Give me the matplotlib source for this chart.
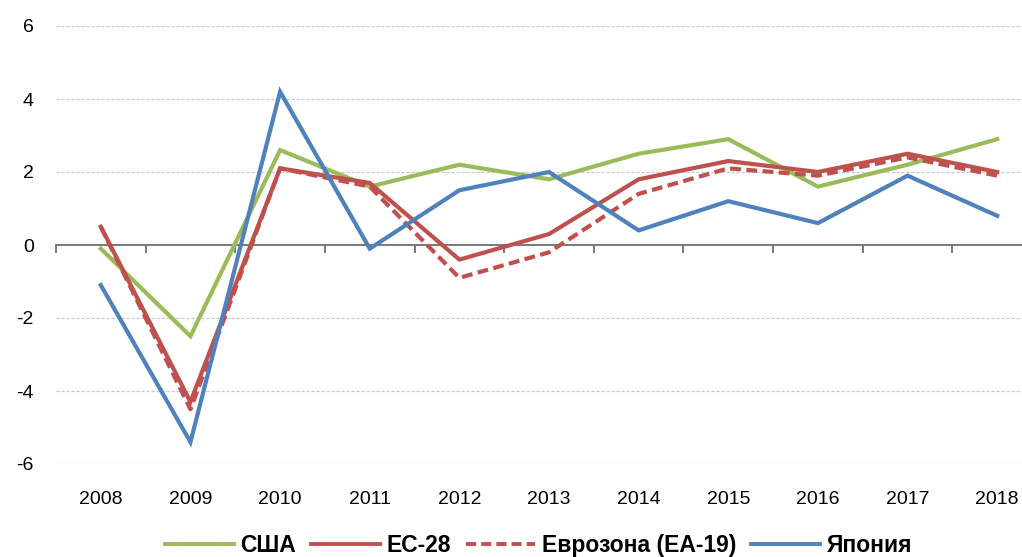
import numpy as np
import matplotlib
matplotlib.use("Agg")
import matplotlib.pyplot as plt
import matplotlib.transforms as mtransforms

plt.rcParams['font.family'] = ['Liberation Sans', 'DejaVu Sans']

# ---- данные: рост ВВП, % ----
years = ['2008', '2009', '2010', '2011', '2012', '2013', '2014', '2015', '2016', '2017', '2018']
usa = [-0.1, -2.5, 2.6, 1.6, 2.2, 1.8, 2.5, 2.9, 1.6, 2.2, 2.9]
eu28 = [0.5, -4.3, 2.1, 1.7, -0.4, 0.3, 1.8, 2.3, 2.0, 2.5, 2.0]
ea19 = [0.5, -4.5, 2.1, 1.6, -0.9, -0.2, 1.4, 2.1, 1.9, 2.4, 1.9]
japan = [-1.1, -5.4, 4.2, -0.1, 1.5, 2.0, 0.4, 1.2, 0.6, 1.9, 0.8]

labels = ['США', 'ЕС-28', 'Еврозона (ЕА-19)', 'Япония']

fig = plt.figure(figsize=(10.22, 5.57), dpi=100)
ax = fig.add_axes([56/1022, 1 - 464/557, 986/1022, 438/557])

x = np.arange(len(years))
ax.plot(x, usa, color='#9bbb59', lw=3, label=labels[0], solid_joinstyle='miter')
ax.plot(x, eu28, color='#c0504d', lw=3, label=labels[1], solid_joinstyle='miter')
ax.plot(x, ea19, color='#c0504d', lw=3, ls=(0, (2.6, 1.3)), label=labels[2])
ax.plot(x, japan, color='#4f81bd', lw=3, label=labels[3], solid_joinstyle='miter')

ax.set_xlim(-0.5, len(years) - 0.5)
ax.set_ylim(-6, 6)

# сетка
for v in [-6, -4, -2, 2, 4, 6]:
    ax.axhline(v, color='#c8c8c8', lw=0.9, ls=(0, (2.5, 1.5)), zorder=0)

for s in ['top', 'right', 'left']:
    ax.spines[s].set_visible(False)
ax.spines['bottom'].set_position(('data', 0))
ax.spines['bottom'].set_color('#6e6e6e')
ax.spines['bottom'].set_linewidth(1.3)
ax.spines['bottom'].set_zorder(1)

ax.set_xticks(np.arange(-0.5, len(years), 1.0))
ax.set_xticklabels([])
ax.tick_params(axis='x', direction='out', length=6, width=1.3, color='#6e6e6e')

ax.set_yticks([-6, -4, -2, 0, 2, 4, 6])
ax.set_yticklabels(['-6', '-4', '-2', '0', '2', '4', '6'])
ax.tick_params(axis='y', length=0, labelsize=14, pad=16)

trans = mtransforms.blended_transform_factory(ax.transData, ax.transAxes)
for i, y in enumerate(years):
    ax.text(i, -0.08, y, transform=trans, ha='center', va='center', fontsize=14)

leg = fig.legend(loc='center', bbox_to_anchor=(0.527, 0.02), ncol=4, frameon=False,
                 handlelength=3.0, columnspacing=0.65, handletextpad=0.3,
                 prop={'weight': 'bold', 'size': 16.5})
for h in leg.get_lines():
    h.set_linewidth(2.8)

fig.savefig('out.png', dpi=100)
